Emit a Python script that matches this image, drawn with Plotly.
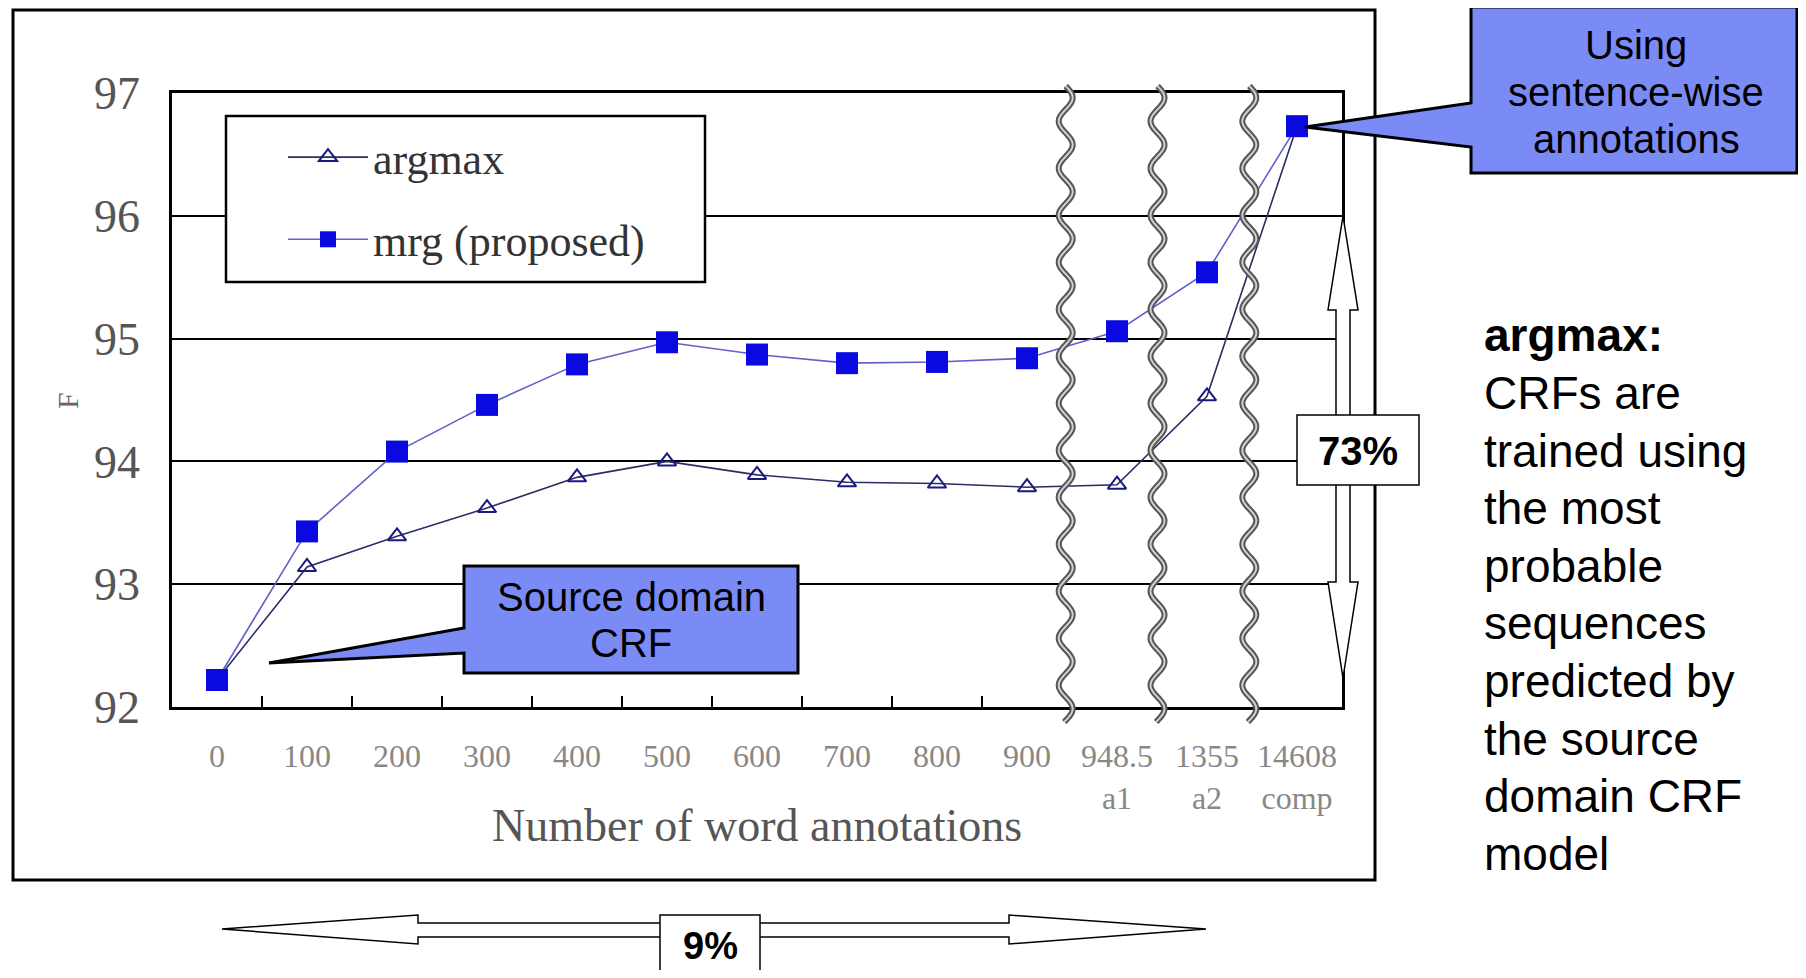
import numpy as np
import plotly.graph_objects as go

# ---------------- data ----------------
x_labels = ["0", "100", "200", "300", "400", "500", "600", "700", "800", "900",
            "948.5<br>a1", "1355<br>a2", "14608<br>comp"]
argmax_vals = [92.22, 93.14, 93.39, 93.62, 93.87, 94.00, 93.89, 93.83, 93.82, 93.79, 93.81, 94.53, 96.73]
mrg_vals = [92.22, 93.43, 94.08, 94.46, 94.79, 94.97, 94.87, 94.80, 94.81, 94.84, 95.06, 95.54, 96.73]
y_ticks = [92, 93, 94, 95, 96, 97]
break_positions = [9.43, 10.45, 11.47]   # axis breaks (wavy lines) between categories
boundary_ticks = [i + 0.5 for i in range(9)]
side_lines = ["CRFs are", "trained using", "the most", "probable", "sequences",
              "predicted by", "the source", "domain CRF", "model"]

# ---------------- geometry helpers (screen pixels -> paper) ----------------
OFF = 8                       # page body margin
W_FIG, H_FIG = 1806 - 2 * OFF, 978 - 2 * OFF
L, R, T, B = 172, 1342, 93, 707   # plot area in screen pixels
PW, PH = R - L, B - T
X_RANGE = [-0.5, 12.5]


def px(x):
    return (x - L) / PW


def py(y):
    return (B - y) / PH


def poly(points, close=True):
    s = "M " + " L ".join(f"{px(a):.5f},{py(b):.5f}" for a, b in points)
    return s + (" Z" if close else "")


idx = list(range(len(x_labels)))
fig = go.Figure()

fig.add_trace(go.Scatter(
    x=idx, y=argmax_vals, mode="lines+markers", name="argmax", legendgroup="a",
    line=dict(color="#2b2b66", width=1.6),
    marker=dict(symbol="triangle-up-open", size=16, color="#1a1a80", line=dict(width=2)),
    cliponaxis=False))
fig.add_trace(go.Scatter(
    x=idx, y=mrg_vals, mode="lines+markers", name="mrg (proposed)", legendgroup="b",
    line=dict(color="#6060cc", width=1.6),
    marker=dict(symbol="square", size=22, color="#0a0ae0"),
    cliponaxis=False))

shapes = []
# wavy axis-break lines (extend slightly beyond the plot area)
wy = np.linspace(86, 722, 400)
for xc in break_positions:
    xc_px = L + (xc - X_RANGE[0]) / (X_RANGE[1] - X_RANGE[0]) * PW
    wx = xc_px + 7 * np.sin(2 * np.pi * (wy - 86) / 47)
    pts = list(zip(wx, wy))
    shapes.append(dict(type="path", xref="paper", yref="paper", path=poly(pts, close=False),
                       line=dict(color="#555555", width=6), layer="above"))
    shapes.append(dict(type="path", xref="paper", yref="paper", path=poly(pts, close=False),
                       line=dict(color="#d0d0d0", width=2), layer="above"))
# outer frame
shapes.append(dict(type="rect", xref="paper", yref="paper", x0=px(13), x1=px(1375),
                   y0=py(880), y1=py(10), line=dict(color="black", width=3), layer="above"))
# legend box
shapes.append(dict(type="rect", xref="paper", yref="paper", x0=px(226), x1=px(705),
                   y0=py(282), y1=py(116), line=dict(color="black", width=2.5),
                   fillcolor="white", layer="above"))
# callout 1
shapes.append(dict(type="path", xref="paper", yref="paper",
                   path=poly([(1471, 7), (1797, 7), (1797, 173), (1471, 173), (1471, 147),
                              (1305, 127), (1471, 103)]),
                   fillcolor="#7b8bf6", line=dict(color="black", width=3), layer="above"))
# callout 2
shapes.append(dict(type="path", xref="paper", yref="paper",
                   path=poly([(464, 566), (798, 566), (798, 673), (464, 673), (464, 653),
                              (269, 663), (464, 628)]),
                   fillcolor="#7b8bf6", line=dict(color="black", width=3), layer="above"))
# vertical 73% arrow
shapes.append(dict(type="path", xref="paper", yref="paper",
                   path=poly([(1343, 216), (1358, 310), (1350, 310), (1350, 582), (1358, 582),
                              (1343, 678), (1328, 582), (1336, 582), (1336, 310), (1328, 310)]),
                   fillcolor="white", line=dict(color="black", width=1.5), layer="above"))
shapes.append(dict(type="rect", xref="paper", yref="paper", x0=px(1297), x1=px(1419),
                   y0=py(485), y1=py(415), line=dict(color="black", width=1.5),
                   fillcolor="white", layer="above"))
# horizontal 9% arrow
shapes.append(dict(type="path", xref="paper", yref="paper",
                   path=poly([(222, 929), (418, 915), (418, 923), (1009, 923), (1009, 915),
                              (1206, 929), (1009, 944), (1009, 937), (418, 937), (418, 944)]),
                   fillcolor="white", line=dict(color="black", width=1.5), layer="above"))
shapes.append(dict(type="rect", xref="paper", yref="paper", x0=px(660), x1=px(760),
                   y0=py(995), y1=py(915), line=dict(color="black", width=1.5),
                   fillcolor="white", layer="above"))

sans = "Liberation Sans, Arial, sans-serif"
serif = "Liberation Serif, Times New Roman, serif"
ann = []
for text, yy in zip(["Using", "sentence-wise", "annotations"], [45, 92, 139]):
    ann.append(dict(x=px(1636), y=py(yy), xref="paper", yref="paper", text=text, showarrow=False,
                    xanchor="center", yanchor="middle", font=dict(family=sans, size=40, color="black")))
for text, yy in zip(["Source domain", "CRF"], [597, 643]):
    ann.append(dict(x=px(631), y=py(yy), xref="paper", yref="paper", text=text, showarrow=False,
                    xanchor="center", yanchor="middle", font=dict(family=sans, size=40, color="black")))
ann.append(dict(x=px(1358), y=py(451), xref="paper", yref="paper", text="<b>73%</b>", showarrow=False,
                xanchor="center", yanchor="middle", font=dict(family=sans, size=40, color="black")))
ann.append(dict(x=px(710), y=py(946), xref="paper", yref="paper", text="<b>9%</b>", showarrow=False,
                xanchor="center", yanchor="middle", font=dict(family=sans, size=38, color="black")))
ann.append(dict(x=px(1482), y=py(335), xref="paper", yref="paper", text="<b>argmax:</b>", showarrow=False,
                xanchor="left", yanchor="middle", font=dict(family=sans, size=46, color="black")))
for i, text in enumerate(side_lines):
    ann.append(dict(x=px(1482), y=py(393 + i * 57.6), xref="paper", yref="paper", text=text,
                    showarrow=False, xanchor="left", yanchor="middle",
                    font=dict(family=sans, size=46, color="black")))
ann.append(dict(x=px(757), y=py(825), xref="paper", yref="paper", text="Number of word annotations",
                showarrow=False, xanchor="center", yanchor="middle",
                font=dict(family=serif, size=46, color="#555555")))
ann.append(dict(x=px(67), y=py(401), xref="paper", yref="paper", text="F", textangle=-90,
                showarrow=False, xanchor="center", yanchor="middle",
                font=dict(family=serif, size=30, color="#666666")))

fig.update_layout(
    width=W_FIG, height=H_FIG,
    margin=dict(l=L - OFF, r=W_FIG - (R - OFF), t=T - OFF, b=H_FIG - (B - OFF), autoexpand=False),
    paper_bgcolor="white", plot_bgcolor="white",
    shapes=shapes, annotations=ann,
    xaxis=dict(range=X_RANGE, tickmode="array", tickvals=idx, ticktext=x_labels,
               ticks="", showgrid=False, zeroline=False, showline=True, mirror=True,
               linecolor="black", linewidth=2.5, ticklabelstandoff=19,
               tickfont=dict(family=serif, size=32, color="#888888"),
               minor=dict(tickmode="array", tickvals=boundary_ticks, ticks="inside",
                          ticklen=11, tickwidth=2, tickcolor="black", showgrid=False)),
    yaxis=dict(range=[92, 97], tickmode="array", tickvals=y_ticks, ticks="",
               showgrid=True, gridcolor="black", gridwidth=2, zeroline=False,
               showline=True, mirror=True, linecolor="black", linewidth=2.5,
               ticklabelstandoff=20, tickfont=dict(family=serif, size=46, color="#555555")),
    legend=dict(x=px(283), y=py(122), xanchor="left", yanchor="top",
                bgcolor="rgba(0,0,0,0)", borderwidth=0, itemwidth=80,
                tracegroupgap=22, traceorder="grouped",
                font=dict(family=serif, size=44, color="#333333")),
    showlegend=True,
)

fig.write_html("out.html")
